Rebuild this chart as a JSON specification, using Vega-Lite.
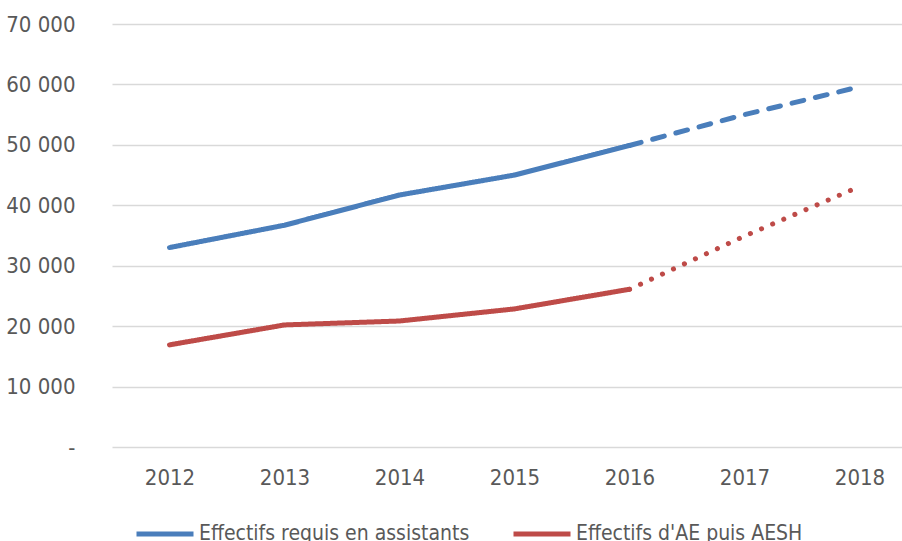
{
  "$schema": "https://vega.github.io/schema/vega-lite/v6.json",
  "autosize": {"type": "none"},
  "padding": {"left": 112, "top": 24, "right": 0, "bottom": 94},
  "width": 790,
  "height": 423,
  "background": "white",
  "config": {
    "view": {"stroke": null},
    "font": "DejaVu Sans Condensed, Liberation Sans"
  },
  "data": {
    "values": [
      {"serie": "Effectifs requis en assistants", "annee": "2012", "effectif": 33000, "trait": "plein"},
      {"serie": "Effectifs requis en assistants", "annee": "2013", "effectif": 36700, "trait": "plein"},
      {"serie": "Effectifs requis en assistants", "annee": "2014", "effectif": 41700, "trait": "plein"},
      {"serie": "Effectifs requis en assistants", "annee": "2015", "effectif": 45000, "trait": "plein"},
      {"serie": "Effectifs requis en assistants", "annee": "2016", "effectif": 49900, "trait": "plein"},
      {"serie": "Effectifs requis en assistants", "annee": "2016", "effectif": 49900, "trait": "tirets"},
      {"serie": "Effectifs requis en assistants", "annee": "2017", "effectif": 55000, "trait": "tirets"},
      {"serie": "Effectifs requis en assistants", "annee": "2018", "effectif": 59600, "trait": "tirets"},
      {"serie": "Effectifs d'AE puis AESH", "annee": "2012", "effectif": 16900, "trait": "plein"},
      {"serie": "Effectifs d'AE puis AESH", "annee": "2013", "effectif": 20200, "trait": "plein"},
      {"serie": "Effectifs d'AE puis AESH", "annee": "2014", "effectif": 20850, "trait": "plein"},
      {"serie": "Effectifs d'AE puis AESH", "annee": "2015", "effectif": 22850, "trait": "plein"},
      {"serie": "Effectifs d'AE puis AESH", "annee": "2016", "effectif": 26100, "trait": "plein"},
      {"serie": "Effectifs d'AE puis AESH", "annee": "2016", "effectif": 26100, "trait": "pointillés"},
      {"serie": "Effectifs d'AE puis AESH", "annee": "2017", "effectif": 34900, "trait": "pointillés"},
      {"serie": "Effectifs d'AE puis AESH", "annee": "2018", "effectif": 43100, "trait": "pointillés"}
    ]
  },
  "mark": {"type": "line", "strokeWidth": 5, "strokeCap": "round", "strokeJoin": "round"},
  "encoding": {
    "x": {
      "field": "annee",
      "type": "ordinal",
      "scale": {"type": "point", "padding": 0.4348, "align": 0.575},
      "axis": {
        "title": null,
        "domain": false,
        "ticks": false,
        "tickSize": 0,
        "grid": false,
        "labelAngle": 0,
        "labelFontSize": 22,
        "labelColor": "#595959",
        "labelPadding": 20
      }
    },
    "y": {
      "field": "effectif",
      "type": "quantitative",
      "scale": {"domain": [0, 70000], "nice": false, "zero": true},
      "axis": {
        "title": null,
        "values": [0, 10000, 20000, 30000, 40000, 50000, 60000, 70000],
        "labelExpr": "datum.value == 0 ? '-\u00a0\u00a0' : replace(format(datum.value, ','), ',', ' ')",
        "domain": false,
        "ticks": false,
        "tickSize": 0,
        "grid": true,
        "gridColor": "#d9d9d9",
        "gridWidth": 1.5,
        "labelFontSize": 22,
        "labelColor": "#595959",
        "labelPadding": 37
      }
    },
    "color": {
      "field": "serie",
      "type": "nominal",
      "scale": {
        "domain": ["Effectifs requis en assistants", "Effectifs d'AE puis AESH"],
        "range": ["#4a7ebb", "#be4b48"]
      },
      "legend": {
        "title": null,
        "orient": "none",
        "direction": "horizontal",
        "legendX": 22,
        "legendY": 479,
        "symbolType": "stroke",
        "symbolSize": 3249,
        "symbolStrokeWidth": 5,
        "labelFontSize": 21,
        "labelColor": "#595959",
        "labelOffset": 3,
        "labelLimit": 600,
        "columnPadding": 33
      }
    },
    "strokeDash": {
      "field": "trait",
      "type": "nominal",
      "scale": {
        "domain": ["plein", "tirets", "pointillés"],
        "range": [[1, 0], [12, 12], [0.1, 12]]
      },
      "legend": null
    }
  }
}
